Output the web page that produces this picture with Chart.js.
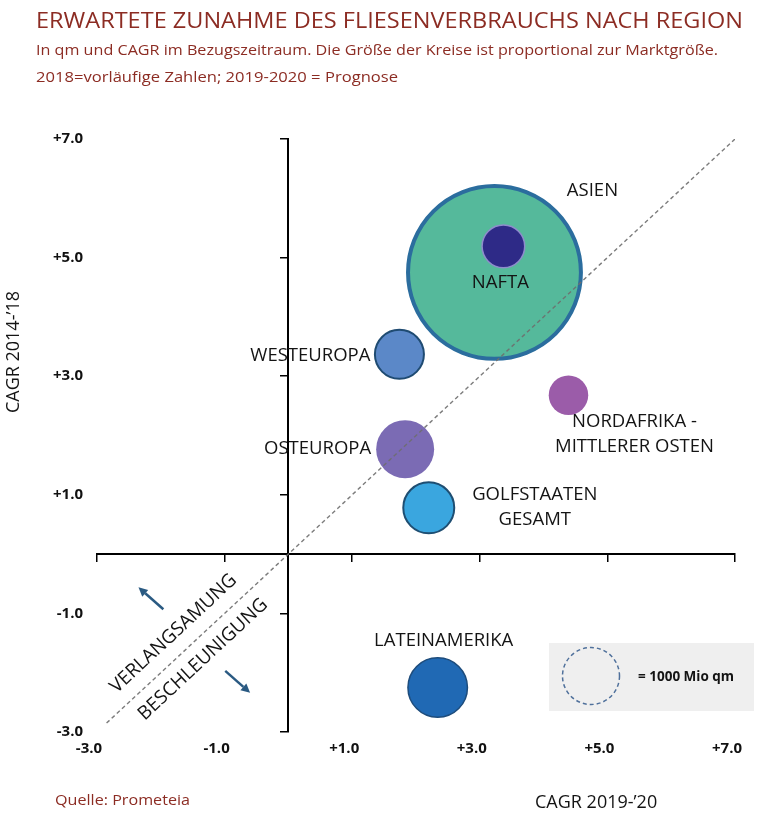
<!DOCTYPE html>
<html lang="de">
<head>
<meta charset="utf-8">
<script src="https://cdn.jsdelivr.net/npm/chart.js@4.4.1/dist/chart.umd.min.js"></script>
<style>
html,body{margin:0;padding:0;background:#fff;}
#wrap{position:relative;width:760px;height:820px;overflow:hidden;font-family:"Open Sans",sans-serif;}
#chart{position:absolute;left:0;top:0;}
.txt{position:absolute;left:36px;white-space:nowrap;color:#8c2c23;transform-origin:0 50%;line-height:1;}
</style>
</head>
<body>
<div id="wrap">
  <canvas id="chart" width="760" height="820"></canvas>
  <div class="txt fit" data-w="707" style="top:8px;font-size:22px">ERWARTETE ZUNAHME DES FLIESENVERBRAUCHS NACH REGION</div>
  <div class="txt fit" data-w="682" style="top:42px;font-size:15px">In qm und CAGR im Bezugszeitraum. Die Größe der Kreise ist proportional zur Marktgröße.</div>
  <div class="txt fit" data-w="362" style="top:69px;font-size:15px">2018=vorläufige Zahlen; 2019-2020 = Prognose</div>
  <div class="txt fit" data-w="135" style="top:792px;left:55px;font-size:15px">Quelle: Prometeia</div>
</div>
<script>
// ---- Daten ----
const regionen=['ASIEN','NAFTA','WESTEUROPA','NORDAFRIKA -\nMITTLERER OSTEN','OSTEUROPA','GOLFSTAATEN\nGESAMT','LATEINAMERIKA'];
const cagr1920=[3.23,3.37,1.74,4.39,1.83,2.20,2.34];   // x: CAGR 2019-'20
const cagr1418=[4.75,5.19,3.37,2.68,1.77,0.78,-2.25];  // y: CAGR 2014-'18
const marktMioQm=[9200,560,740,480,1035,800,1090];      // Kreisfläche ~ Marktgröße
const achsenTicks=[-3,-1,1,3,5,7];
const diagonaleX=[-2.85,7];
const diagonaleY=[-2.85,7];
const legendeMioQm=1000;

// ---- Stil ----
const PX_1000=28.5; // Radius eines Kreises von 1000 Mio qm
const radius=v=>PX_1000*Math.sqrt(v/1000);
const fuellung=['#55b99b','#2e2a87','#5b88c8','#9b5ca9','#7b6bb4','#3aa6df','#2069b4'];
const rand=['#2b6d9e','#8e8ccc','#1f4b72','#9b5ca9','#7b6bb4','#1e4e72','#1d4c7c'];
const randBreite=[4,1.5,2,0,0,2,1.5];
const labelPos=[
  {dx:98,dy:-82,align:'center'},
  {dx:-3,dy:36,align:'center'},
  {dx:-29,dy:1,align:'right'},
  {dx:66,dy:27,align:'center'},
  {dx:-34,dy:0,align:'right'},
  {dx:106,dy:-13,align:'center'},
  {dx:6,dy:-47,align:'center'}
];
const fmt=v=>(v>0?'+':'')+v.toFixed(1);
const FONT='"Open Sans", "DejaVu Sans", sans-serif';

document.querySelectorAll('.fit').forEach(el=>{
  const w=el.getBoundingClientRect().width;
  el.style.transform='scaleX('+(+el.dataset.w/w)+')';
});

function pfeil(ctx,x1,y1,x2,y2){
  const a=Math.atan2(y2-y1,x2-x1),h=9,b=4.5;
  const bx=x2-h*Math.cos(a),by=y2-h*Math.sin(a);
  ctx.beginPath();ctx.moveTo(x1,y1);ctx.lineTo(bx,by);ctx.stroke();
  ctx.beginPath();ctx.moveTo(x2,y2);
  ctx.lineTo(bx+b*Math.sin(a),by-b*Math.cos(a));
  ctx.lineTo(bx-b*Math.sin(a),by+b*Math.cos(a));
  ctx.closePath();ctx.fill();
}

const beschriftung={
  id:'beschriftung',
  afterDraw(chart){
    const {ctx,scales:{x,y}}=chart;
    ctx.save();
    // Regionen
    ctx.fillStyle='#141414';
    ctx.font='18.5px '+FONT;
    ctx.textBaseline='middle';
    regionen.forEach((name,i)=>{
      const cx=x.getPixelForValue(cagr1920[i]),cy=y.getPixelForValue(cagr1418[i]);
      const l=labelPos[i];
      ctx.textAlign=l.align;
      name.split('\n').forEach((z,k)=>ctx.fillText(z,cx+l.dx,cy+l.dy+k*25));
    });
    // Diagonale beschriften
    const ax=x.getPixelForValue(diagonaleX[0]),ay=y.getPixelForValue(diagonaleY[0]);
    const bx=x.getPixelForValue(diagonaleX[1]),by=y.getPixelForValue(diagonaleY[1]);
    const ang=Math.atan2(by-ay,bx-ax),ux=Math.cos(ang),uy=Math.sin(ang),nx=uy,ny=-ux;
    ctx.font='19px '+FONT;
    ctx.textAlign='center';
    [['VERLANGSAMUNG',110,20],['BESCHLEUNIGUNG',114,-19]].forEach(([t,s,d])=>{
      ctx.save();
      ctx.translate(ax+ux*s+nx*d,ay+uy*s+ny*d);
      ctx.rotate(ang);
      ctx.fillText(t,0,0);
      ctx.restore();
    });
    // Pfeile
    ctx.strokeStyle='#2a5a82';ctx.fillStyle='#2a5a82';ctx.lineWidth=2.5;
    pfeil(ctx,x.getPixelForValue(-1.96),y.getPixelForValue(-0.93),x.getPixelForValue(-2.35),y.getPixelForValue(-0.56));
    pfeil(ctx,x.getPixelForValue(-0.99),y.getPixelForValue(-1.97),x.getPixelForValue(-0.60),y.getPixelForValue(-2.34));
    // Achsentitel
    ctx.fillStyle='#141414';
    ctx.font='18px '+FONT;
    ctx.textAlign='left';
    ctx.fillText('CAGR 2019-\u201920',535,803);
    ctx.save();
    ctx.translate(14,352);ctx.rotate(-Math.PI/2);
    ctx.textAlign='center';
    ctx.fillText('CAGR 2014-\u201918',0,0);
    ctx.restore();
    // Größenlegende
    ctx.fillStyle='#efefef';
    ctx.fillRect(549,643,205,68);
    ctx.setLineDash([4,3]);
    ctx.strokeStyle='#4f709b';ctx.lineWidth=1.5;
    ctx.beginPath();ctx.arc(591,676,radius(legendeMioQm),0,Math.PI*2);ctx.stroke();
    ctx.setLineDash([]);
    ctx.fillStyle='#141414';
    ctx.font='bold 13.5px '+FONT;
    ctx.textAlign='left';
    ctx.fillText('= '+legendeMioQm+' Mio qm',638,677);
    ctx.restore();
  }
};

const achseMitte=(pos)=>({
  type:'linear',min:-3,max:7,position:pos,
  afterBuildTicks:s=>{s.ticks=achsenTicks.map(v=>({value:v}));},
  ticks:{display:false},
  grid:{display:true,drawOnChartArea:false,drawTicks:true,tickLength:7,color:'#000',lineWidth:1.5},
  border:{display:true,color:'#000',width:2}
});
const tickFont={family:FONT,size:15,weight:'bold'};

new Chart(document.getElementById('chart'),{
  type:'bubble',
  data:{datasets:[
    {
      type:'line',order:-1,xAxisID:'x',yAxisID:'y',
      data:diagonaleX.map((v,i)=>({x:v,y:diagonaleY[i]})),
      borderColor:'rgba(110,110,110,0.9)',borderWidth:1.4,borderDash:[4,3],
      pointRadius:0,fill:false
    },
    {
      order:0,xAxisID:'x',yAxisID:'y',
      data:regionen.map((r,i)=>({x:cagr1920[i],y:cagr1418[i],r:radius(marktMioQm[i])})),
      backgroundColor:fuellung,borderColor:rand,borderWidth:randBreite
    }
  ]},
  options:{
    responsive:false,animation:false,
    layout:{autoPadding:false,padding:{left:0,top:139,right:25,bottom:48}},
    plugins:{legend:{display:false},tooltip:{enabled:false}},
    scales:{
      x:achseMitte({y:0}),
      y:achseMitte({x:0}),
      xb:{
        type:'linear',axis:'x',position:'bottom',min:-3,max:7,
        afterBuildTicks:s=>{s.ticks=achsenTicks.map(v=>({value:v}));},
        afterFit:s=>{s.height=40;},
        ticks:{callback:fmt,color:'#111',font:tickFont,padding:0,labelOffset:-8,maxRotation:0,autoSkip:false},
        grid:{display:false},border:{display:false}
      },
      yl:{
        type:'linear',axis:'y',position:'left',min:-3,max:7,
        afterBuildTicks:s=>{s.ticks=achsenTicks.map(v=>({value:v}));},
        afterFit:s=>{s.width=97;},
        ticks:{callback:fmt,color:'#111',font:tickFont,padding:6,autoSkip:false},
        grid:{display:false},border:{display:false}
      }
    }
  },
  plugins:[beschriftung]
});
</script>
</body>
</html>
